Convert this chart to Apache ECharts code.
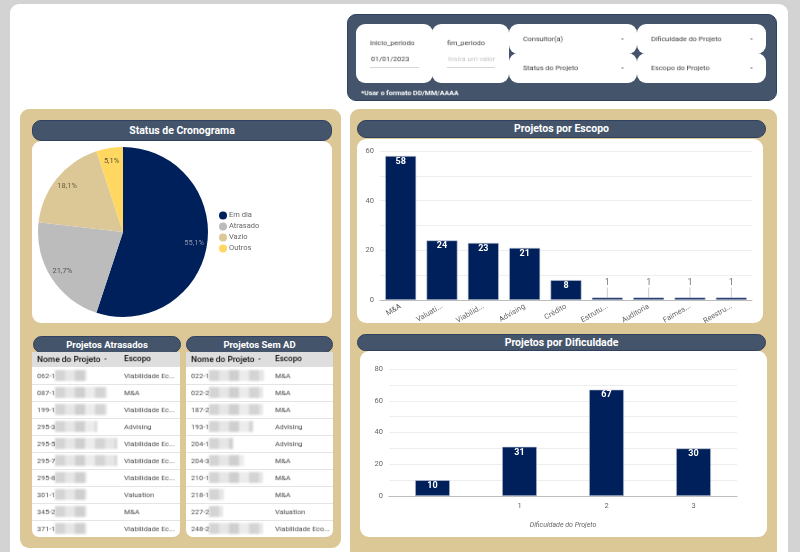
<!DOCTYPE html>
<html>
<head>
<meta charset="utf-8">
<title>Painel de Projetos</title>
<script src="https://cdn.jsdelivr.net/npm/echarts@6/dist/echarts.min.js"></script>
<style>
  html, body { margin: 0; padding: 0; width: 800px; height: 552px; overflow: hidden; background: #d3d3d3; font-family: Roboto, sans-serif; }
  body { filter: blur(0.35px); }
  div { position: absolute; box-sizing: border-box; }
  #page { left: 10px; top: 4px; width: 778px; height: 548px; background: #fff; border-radius: 9px 9px 0 0; }
  .navy { background: #44546a; border: 1px solid #2f4060; }
  .tan { background: #dcc797; border-radius: 9px; }
  .pill { color: #fff; font-weight: 700; font-size: 10.5px; text-align: center; border-radius: 9px; }
  .card { background: #fff; border-radius: 9px; }
  .field { background: #fff; border-radius: 9px; }
  .txt { color: #3c3c3c; font-size: 8px; white-space: nowrap; line-height: 11px; transform: scale(0.9); transform-origin: 0 0; will-change: transform; }
  .line { background: #d6d6d6; height: 1px; }
  .tbl { background: #fff; border-radius: 0 0 7px 7px; overflow: hidden; }
  .head { left: 0; top: 0; right: 0; height: 15px; background: #dedede; }
  .rule { left: 0; right: 0; height: 1px; background: #e4e4e4; }
  .smear { height: 11px; filter: blur(1.2px); background: repeating-linear-gradient(90deg, #d4d4d4 0 10px, #e6e6e6 10px 20px, #cfcfcf 20px 30px, #ececec 30px 40px); }
</style>
</head>
<body>
<div id="page"></div>

<div class="navy" style="left:347px;top:14px;width:430px;height:87px;border-radius:9px"></div>
<div class="field" style="left:356px;top:24px;width:77px;height:59px"></div>
<div class="field" style="left:432px;top:24px;width:77px;height:59px"></div>
<div class="field" style="left:509px;top:24px;width:128px;height:30px"></div>
<div class="field" style="left:509px;top:53px;width:128px;height:30px"></div>
<div class="field" style="left:637px;top:24px;width:129px;height:30px"></div>
<div class="field" style="left:637px;top:53px;width:129px;height:30px"></div>
<div class="txt" style="left:370px;top:38px">inicio_periodo</div>
<div class="txt" style="left:371px;top:54px">01/01/2023</div>
<div class="line" style="left:370px;top:67px;width:49px"></div>
<div class="txt" style="left:447px;top:38px">fim_periodo</div>
<div class="txt" style="left:448px;top:54px;color:#c4c4c4">Insira um valor</div>
<div class="line" style="left:447px;top:67px;width:48px"></div>
<div class="txt" style="left:523px;top:34px">Consultor(a)</div>
<div class="txt" style="left:621px;top:34px;font-weight:700">-</div>
<div class="txt" style="left:523px;top:63px">Status do Projeto</div>
<div class="txt" style="left:621px;top:63px;font-weight:700">-</div>
<div class="txt" style="left:651px;top:34px">Dificuldade do Projeto</div>
<div class="txt" style="left:750px;top:34px;font-weight:700">-</div>
<div class="txt" style="left:651px;top:63px">Escopo do Projeto</div>
<div class="txt" style="left:750px;top:63px;font-weight:700">-</div>
<div class="txt" style="left:361px;top:88px;color:#fff;font-weight:700;font-size:7.8px">*Usar o formato DD/MM/AAAA</div>

<div class="tan" style="left:20px;top:109px;width:321px;height:439px"></div>
<div class="tan" style="left:350px;top:109px;width:427px;height:450px"></div>

<div class="pill navy" style="left:32px;top:120px;width:300px;height:21px;line-height:19px">Status de Cronograma</div>
<div class="card" id="pieChart" style="left:32px;top:141px;width:300px;height:182px"></div>

<div class="pill navy" style="left:33px;top:336px;width:148px;height:17px;line-height:15px;font-size:9.5px">Projetos Atrasados</div>
<div class="tbl" id="tblLate" style="left:32px;top:352px;width:148px;height:185px"></div>
<div class="pill navy" style="left:186px;top:336px;width:147px;height:17px;line-height:15px;font-size:9.5px">Projetos Sem AD</div>
<div class="tbl" id="tblNoAd" style="left:186px;top:352px;width:147px;height:185px"></div>

<div class="pill navy" style="left:357px;top:120px;width:409px;height:18px;line-height:16px">Projetos por Escopo</div>
<div class="card" id="scopeChart" style="left:357px;top:139px;width:406px;height:184px"></div>
<div class="pill navy" style="left:357px;top:334px;width:409px;height:17px;line-height:15px">Projetos por Dificuldade</div>
<div class="card" id="diffChart" style="left:360px;top:351px;width:407px;height:186px"></div>

<script>
var statusNames = ['Em dia', 'Atrasado', 'Vazio', 'Outros'];
var statusValues = [76, 30, 25, 7];
var statusColors = ['#00205c', '#bcbcbc', '#dcc797', '#ffd761'];
var statusLabelColors = ['#8d97ad', '#555555', '#6b5f45', '#5a5133'];

var scopeNames = ['M&A', 'Valuati...', 'Viabilid...', 'Advising', 'Crédito', 'Estrutu...', 'Auditoria', 'Faimes...', 'Reestru...'];
var scopeValues = [58, 24, 23, 21, 8, 1, 1, 1, 1];

var diffNames = ['', '1', '2', '3'];
var diffValues = [10, 31, 67, 30];

var lateIds = ['062-1', '087-1', '199-1', '295-3', '295-5', '295-7', '295-8', '301-1', '345-2', '371-1'];
var lateScopes = ['Viabilidade Ec...', 'M&A', 'Viabilidade Ec...', 'Advising', 'Viabilidade Ec...', 'Viabilidade Ec...', 'Viabilidade Ec...', 'Valuation', 'M&A', 'Viabilidade Ec...'];
var lateHidden = [32, 52, 52, 42, 62, 62, 32, 32, 32, 32];

var noAdIds = ['022-1', '022-2', '187-2', '193-1', '204-1', '204-3', '210-1', '218-1', '227-2', '248-2'];
var noAdScopes = ['M&A', 'M&A', 'M&A', 'Advising', 'Advising', 'M&A', 'M&A', 'M&A', 'Valuation', 'Viabilidade Eco...'];
var noAdHidden = [55, 54, 54, 44, 24, 35, 54, 15, 14, 54];

function addDiv(parent, cls, css, text) {
  var el = document.createElement('div');
  el.className = cls;
  el.style.cssText = css;
  if (text) el.textContent = text;
  parent.appendChild(el);
}

function renderTable(id, ids, scopes, hidden, scopeLeft) {
  var box = document.getElementById(id);
  addDiv(box, 'head', '');
  addDiv(box, 'txt', 'left:5px;top:2px;color:#111;font-weight:500;font-size:9.4px', 'Nome do Projeto');
  addDiv(box, 'txt', 'left:72px;top:2px;color:#111;font-weight:700', '-');
  addDiv(box, 'txt', 'left:' + scopeLeft + 'px;top:2px;color:#111;font-weight:500;font-size:9.1px', 'Escopo');
  for (var i = 0; i < ids.length; i++) {
    var top = 15 + i * 17;
    addDiv(box, 'smear', 'left:23px;top:' + (top + 3) + 'px;width:' + hidden[i] + 'px');
    addDiv(box, 'txt', 'left:5px;top:' + (top + 4) + 'px;color:#4a4a4a', ids[i]);
    addDiv(box, 'txt', 'left:' + scopeLeft + 'px;top:' + (top + 4) + 'px;color:#4a4a4a', scopes[i]);
    if (i < ids.length - 1) addDiv(box, 'rule', 'top:' + (top + 17) + 'px');
  }
}

function renderPie() {
  var chart = echarts.init(document.getElementById('pieChart'));
  chart.setOption({
    animation: false,
    legend: {
      orient: 'vertical',
      left: 182,
      top: 'middle',
      icon: 'circle',
      itemWidth: 8,
      itemHeight: 8,
      itemGap: 3,
      textStyle: { fontFamily: 'Roboto', fontSize: 7.5, color: '#666666', padding: [0, 0, 0, -3] },
      data: statusNames
    },
    series: [
      {
        type: 'pie',
        center: [91, 91],
        radius: 85,
        startAngle: 90,
        silent: true,
        label: { show: false },
        data: statusNames.map(function(name, i) {
          return { name: name, value: statusValues[i], itemStyle: { color: statusColors[i] } };
        })
      },
      {
        // anel transparente so para as etiquetas ficarem perto da borda
        type: 'pie',
        center: [91, 91],
        radius: [53, 85],
        startAngle: 90,
        silent: true,
        itemStyle: { color: 'transparent' },
        label: {
          show: true,
          position: 'inside',
          fontFamily: 'Roboto',
          fontSize: 7.5,
          formatter: function(p) { return p.percent.toFixed(1).replace('.', ',') + '%'; }
        },
        data: statusNames.map(function(name, i) {
          return { name: name, value: statusValues[i], label: { color: statusLabelColors[i] } };
        })
      }
    ]
  });
}

function barItem(value, smallLimit) {
  var small = value <= smallLimit;
  return {
    value: value,
    label: {
      position: small ? 'top' : 'insideTop',
      distance: small ? 2 : 1,
      color: small ? '#777777' : '#ffffff',
      fontWeight: small ? 'normal' : 'bold'
    },
    labelLine: { show: small, lineStyle: { color: '#cccccc', width: 1 } }
  };
}

function renderBars(id, names, values, opt) {
  var chart = echarts.init(document.getElementById(id));
  opt.grid.outerBoundsMode = 'none';
  chart.setOption({
    animation: false,
    grid: opt.grid,
    xAxis: {
      type: 'category',
      data: names,
      name: opt.xName,
      nameLocation: 'middle',
      nameGap: 26,
      nameTextStyle: { fontFamily: 'Roboto', fontSize: 7, fontStyle: 'italic', color: '#666666' },
      axisTick: { show: false },
      axisLine: { lineStyle: { color: '#bdbdbd', width: 1 } },
      axisLabel: { interval: 0, rotate: opt.rotate, fontFamily: 'Roboto', fontSize: 7.5, color: '#666666', margin: 6 }
    },
    yAxis: {
      type: 'value',
      min: 0,
      max: opt.max,
      interval: 20,
      minorTick: { show: false, splitNumber: 2 },
      minorSplitLine: { show: true, lineStyle: { color: '#eeeeee', width: 1 } },
      splitLine: { lineStyle: { color: '#eeeeee', width: 1 } },
      axisLine: { show: false },
      axisTick: { show: false },
      axisLabel: { fontFamily: 'Roboto', fontSize: 7.5, color: '#666666', margin: 6 }
    },
    series: [{
      type: 'bar',
      barWidth: opt.barWidth,
      silent: true,
      itemStyle: { color: '#00205c', borderColor: '#c9ccd6', borderWidth: 0.6 },
      label: { show: true, fontFamily: 'Roboto', fontSize: 9 },
      labelLayout: function(p) {
        return { dy: values[p.dataIndex] <= opt.smallLimit ? -8 : 0, hideOverlap: false };
      },
      data: values.map(function(v) { return barItem(v, opt.smallLimit); })
    }]
  });
}

renderTable('tblLate', lateIds, lateScopes, lateHidden, 92);
renderTable('tblNoAd', noAdIds, noAdScopes, noAdHidden, 89);
renderPie();
renderBars('scopeChart', scopeNames, scopeValues, {
  grid: { left: 23, right: 11, top: 12, bottom: 23 },
  max: 60, rotate: 30, barWidth: '75%', smallLimit: 1
});
renderBars('diffChart', diffNames, diffValues, {
  grid: { left: 29, right: 30, top: 18, bottom: 41 },
  max: 80, rotate: 0, barWidth: '40%', smallLimit: 0, xName: 'Dificuldade do Projeto'
});
</script>
</body>
</html>
